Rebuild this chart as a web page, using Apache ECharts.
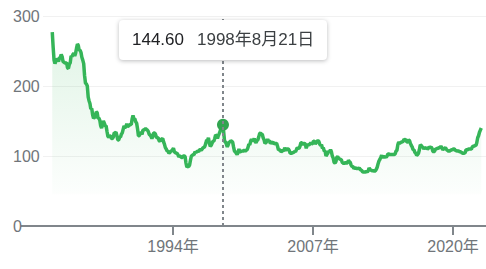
<!DOCTYPE html>
<html>
<head>
<meta charset="utf-8">
<script src="https://cdn.jsdelivr.net/npm/echarts@6/dist/echarts.min.js"></script>
<style>
  html, body { margin: 0; padding: 0; background: #fff; }
  #chart { width: 486px; height: 269px; }
</style>
</head>
<body>
<div id="chart"></div>
<script>
// USD/JPY monthly values (first month: Oct 1982)
const startYear = 1982;
const startMonth = 10; // October
const rates1980s = [
  277, 255, 237,
  232, 236, 238, 238, 235, 240, 241, 245, 242, 235, 234, 233,
  233, 233, 226, 225, 231, 233, 243, 242, 245, 247, 243, 247,
  254, 260, 258, 251, 251, 248, 241, 237, 232, 215, 204, 203,
  200, 184, 179, 175, 167, 168, 159, 154, 155, 156, 163, 162,
  154, 154, 151, 143, 140, 145, 150, 147, 143, 143, 135, 128,
  127, 129, 128, 125, 125, 127, 133, 133, 134, 129, 123, 123,
  127, 127, 131, 133, 138, 143, 141, 141, 146, 142, 143, 144
];
const rates1990s = [
  145, 145, 153, 158, 153, 153, 149, 147, 139, 129, 129, 133,
  133, 131, 137, 137, 138, 139, 138, 137, 135, 131, 130, 128,
  125, 128, 133, 133, 131, 127, 126, 126, 122, 121, 124, 124,
  125, 120, 117, 112, 110, 107, 107, 104, 105, 107, 107, 109,
  111, 106, 105, 104, 104, 102, 99, 100, 99, 98, 98, 100,
  100, 99, 90, 84, 85, 85, 87, 94, 100, 101, 102, 102,
  106, 105, 106, 107, 106, 109, 109, 108, 110, 112, 112, 114,
  118, 123, 122, 126, 119, 114, 115, 118, 121, 121, 125, 130,
  129, 125, 129, 132, 135, 140, 141, 144.60, 134, 121, 120, 117,
  113, 116, 120, 120, 122, 121, 120, 113, 107, 106, 104, 102
];
const rates2000s = [
  105, 110, 106, 106, 108, 106, 108, 108, 107, 108, 109, 112,
  117, 116, 121, 124, 122, 122, 125, 121, 119, 122, 123, 127,
  132, 133, 131, 131, 126, 123, 118, 119, 121, 124, 121, 122,
  118, 119, 119, 120, 117, 118, 118, 118, 114, 109, 109, 108,
  106, 107, 108, 107, 112, 109, 109, 110, 110, 108, 104, 104,
  104, 105, 105, 107, 106, 109, 112, 111, 111, 114, 119, 119,
  116, 118, 118, 117, 111, 115, 116, 116, 117, 119, 117, 118,
  121, 121, 117, 119, 121, 122, 121, 117, 115, 116, 111, 112,
  107, 107, 100, 102, 104, 107, 106, 109, 106, 100, 97, 91,
  90, 92, 98, 99, 97, 96, 95, 95, 91, 90, 89, 90
];
const rates2010s = [
  91, 90, 90, 94, 92, 91, 87, 85, 85, 82, 83, 83,
  82, 82, 82, 83, 81, 80, 79, 77, 77, 77, 77, 78,
  77, 79, 83, 81, 80, 79, 79, 79, 78, 79, 81, 84,
  89, 93, 95, 98, 101, 97, 100, 98, 99, 98, 100, 103,
  103, 102, 102, 102, 102, 102, 102, 103, 107, 108, 116, 120,
  118, 119, 120, 120, 121, 124, 123, 124, 120, 120, 123, 122,
  118, 115, 113, 109, 109, 105, 104, 101, 102, 104, 109, 116,
  115, 113, 113, 110, 112, 111, 112, 110, 111, 113, 112, 113,
  111, 107, 106, 107, 110, 110, 111, 111, 112, 112, 114, 112,
  109, 110, 111, 112, 110, 108, 108, 106, 108, 108, 109, 109
];
const rates2020s = [
  110, 110, 108, 108, 107, 107, 107, 106, 106, 105, 104, 104,
  104, 105, 109, 109, 109, 110, 110, 110, 110, 113, 114, 114,
  115, 115, 119, 126, 129, 134, 137, 140
];
// highlighted point (tooltip)
const highlightDate = '1998-08-21';
const highlightValue = 144.60;
// axis
const yTicks = [0, 100, 200, 300];
const xTickYears = [1994, 2007, 2020];
const xMinDate = [1981, 12, 5];
const xMaxDate = [2023, 1, 22];

function ts(y, m, d) { return Date.UTC(y, m - 1, d); }

const allRates = [].concat(rates1980s, rates1990s, rates2000s, rates2010s, rates2020s);
const hlParts = highlightDate.split('-').map(Number);
const seriesData = [];
let highlightIndex = -1;
allRates.forEach(function (v, i) {
  const m = startMonth - 1 + i;
  const y = startYear + Math.floor(m / 12);
  const mo = (m % 12) + 1;
  let d = 15;
  if (y === hlParts[0] && mo === hlParts[1]) { d = hlParts[2]; highlightIndex = i; v = highlightValue; }
  seriesData.push([ts(y, mo, d), v]);
});

const FONT = '"Liberation Sans", Arial, "Noto Sans CJK JP", sans-serif';
const xTickValues = xTickYears.map(function (y) { return ts(y, 1, 1); });
const xMin = ts(xMinDate[0], xMinDate[1], xMinDate[2]);
const xMax = ts(xMaxDate[0], xMaxDate[1], xMaxDate[2]);

const chart = echarts.init(document.getElementById('chart'), null, { renderer: 'svg' });
chart.setOption({
  animation: false,
  grid: { left: 43, right: 0, top: 16, bottom: 43, containLabel: false },
  xAxis: {
    type: 'value',
    min: xMin,
    max: xMax,
    axisLine: { show: true, onZero: false, lineStyle: { color: '#80868b', width: 2 } },
    axisTick: { show: true, length: 9, lineStyle: { color: '#80868b', width: 2 }, customValues: xTickValues },
    axisLabel: {
      customValues: xTickValues,
      color: '#70757a', fontSize: 16, fontFamily: FONT, margin: 12,
      formatter: function (val) { return new Date(val).getUTCFullYear() + '年'; }
    },
    splitLine: { show: false }
  },
  yAxis: {
    type: 'value',
    min: yTicks[0],
    max: yTicks[yTicks.length - 1],
    interval: yTicks[1] - yTicks[0],
    axisLine: { show: false },
    axisTick: { show: false },
    axisLabel: { align: 'left', margin: 30, color: '#70757a', fontSize: 16, fontFamily: FONT },
    splitLine: { lineStyle: { color: '#f1f1f1', width: 1 } }
  },
  tooltip: {
    trigger: 'axis',
    triggerOn: 'none',
    alwaysShowContent: true,
    renderMode: 'html',
    backgroundColor: '#fff',
    borderWidth: 0,
    borderRadius: 4,
    padding: [0, 13],
    extraCssText: 'box-shadow: 0 1px 4px rgba(60,64,67,0.35); line-height:40px; height:40px; white-space:nowrap;',
    transitionDuration: 0,
    axisPointer: {
      type: 'line',
      lineStyle: { color: '#80868b', width: 2, type: [3, 3] },
      label: { show: false }
    },
    position: function (point, params, dom, rect, size) {
      return [point[0] - size.contentSize[0] / 2, 20];
    },
    formatter: function (params) {
      const p = params[0];
      const d = new Date(p.value[0]);
      const f = FONT.replace(/"/g, "'");
      return '<span style="font-family:' + f + ';font-size:17px;color:#202124">' +
        Number(p.value[1]).toFixed(2) + '</span>' +
        '<span style="font-family:' + f + ';font-size:17px;color:#3c4043;margin-left:13px">' +
        d.getUTCFullYear() + '年' + (d.getUTCMonth() + 1) + '月' + d.getUTCDate() + '日</span>';
    }
  },
  series: [{
    type: 'line',
    data: seriesData,
    symbol: 'none',
    lineStyle: { color: '#31a550', width: 3.5 },
    itemStyle: { color: '#31a550' },
    areaStyle: {
      color: new echarts.graphic.LinearGradient(0, 0, 0, 1, [
        { offset: 0, color: 'rgba(52,168,83,0.22)' },
        { offset: 0.83, color: 'rgba(52,168,83,0.02)' },
        { offset: 0.84, color: 'rgba(52,168,83,0)' },
        { offset: 1, color: 'rgba(52,168,83,0)' }
      ])
    },
    markPoint: {
      symbol: 'circle',
      symbolSize: 12,
      itemStyle: { color: '#31a550' },
      label: { show: false },
      data: [{ coord: [seriesData[highlightIndex][0], highlightValue] }]
    }
  }]
});

// extend the zero baseline to the left, under the "0" label
const y0 = chart.convertToPixel({ yAxisIndex: 0 }, 0);
const gl = chart.convertToPixel({ xAxisIndex: 0 }, xMin);
chart.setOption({
  graphic: [{
    type: 'line',
    shape: { x1: 21, y1: y0, x2: gl + 1, y2: y0 },
    style: { stroke: '#80868b', lineWidth: 2 },
    silent: true
  }]
});

chart.dispatchAction({ type: 'showTip', seriesIndex: 0, dataIndex: highlightIndex });
</script>
</body>
</html>
